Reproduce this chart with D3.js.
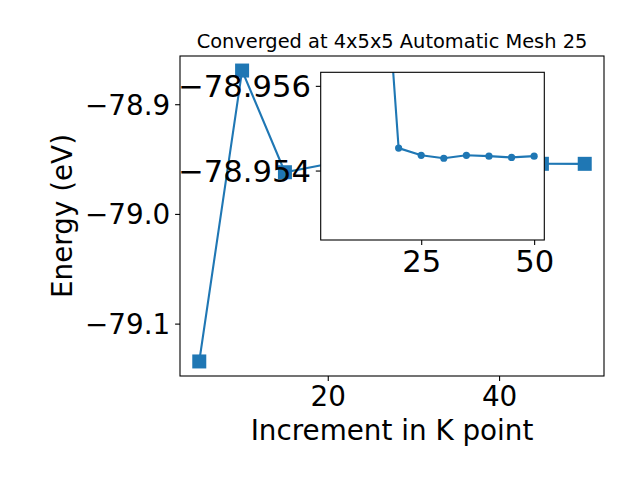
<!DOCTYPE html>
<html><head><meta charset="utf-8">
<script src="https://cdn.jsdelivr.net/npm/d3@7"></script>
<style>
html,body{margin:0;padding:0;background:#fff;}
text{font-family:"DejaVu Sans",sans-serif;fill:#000;}
</style></head>
<body><svg id="c" width="640" height="480"></svg>
<script>
// ---- data ----
const kpoints = [5, 10, 15, 20, 25, 30, 35, 40, 45, 50];
const energy = [-79.1345, -78.8693, -78.9620, -78.95453, -78.95436, -78.95429, -78.95436, -78.95434, -78.95431, -78.95434];
const insetStart = 2; // inset plots from k = 15 onward
const mainXTicks = [20, 40];
const mainYTicks = [-79.1, -79.0, -78.9];
const insetXTicks = [25, 50];
const insetYTicks = [-78.956, -78.954];
const insetYLim = [-78.95236, -78.95632];
const titleText = "Converged at 4x5x5 Automatic Mesh 25";
const xLabel = "Increment in K point";
const yLabel = "Energy (eV)";

const color = "#1f77b4";
const svg = d3.select("#c");
const fmtMinus = s => s.replace("-", "\u2212");

// ---- main axes ----
const M = {l:180, t:56, r:604, b:376};
const xr = d3.extent(kpoints), yr = d3.extent(energy);
const xp = (xr[1]-xr[0])*0.05, yp = (yr[1]-yr[0])*0.05;
const x = d3.scaleLinear().domain([xr[0]-xp, xr[1]+xp]).range([M.l, M.r]);
const y = d3.scaleLinear().domain([yr[0]-yp, yr[1]+yp]).range([M.b, M.t]);

svg.append("clipPath").attr("id","mclip").append("rect")
  .attr("x",M.l).attr("y",M.t).attr("width",M.r-M.l).attr("height",M.b-M.t);

const pts = kpoints.map((k,i)=>[k, energy[i]]);
const gm = svg.append("g").attr("clip-path","url(#mclip)");
gm.append("path").datum(pts)
  .attr("d", d3.line().x(d=>x(d[0])).y(d=>y(d[1])))
  .attr("fill","none").attr("stroke",color).attr("stroke-width",2.1);
gm.selectAll("rect.m").data(pts).join("rect")
  .attr("x", d=>x(d[0])-7).attr("y", d=>y(d[1])-7)
  .attr("width",14).attr("height",14).attr("fill",color);

function styleAxis(g, fs){
  g.select(".domain").remove();
  g.selectAll(".tick line").attr("stroke","#000").attr("stroke-width",1.1);
  g.selectAll(".tick text").attr("font-size",fs).attr("font-family","DejaVu Sans").attr("fill","#000");
}
const gx = svg.append("g").attr("transform",`translate(0,${M.b})`)
  .call(d3.axisBottom(x).tickValues(mainXTicks).tickSize(4.9).tickPadding(4.9).tickFormat(d3.format("d")));
styleAxis(gx, 27.8);
const gy = svg.append("g").attr("transform",`translate(${M.l},0)`)
  .call(d3.axisLeft(y).tickValues(mainYTicks).tickSize(4.9).tickPadding(4.9).tickFormat(d=>fmtMinus(d3.format(".1f")(d))));
styleAxis(gy, 27.8);
gy.selectAll(".tick text").attr("dy","0.36em");

svg.append("rect").attr("x",M.l).attr("y",M.t).attr("width",M.r-M.l).attr("height",M.b-M.t)
  .attr("fill","none").attr("stroke","#000").attr("stroke-width",1.1);

svg.append("text").attr("x",(M.l+M.r)/2).attr("y",48).attr("text-anchor","middle")
  .attr("font-size",19.4).text(titleText);
svg.append("text").attr("x",(M.l+M.r)/2).attr("y",440).attr("text-anchor","middle")
  .attr("font-size",27.8).text(xLabel);
svg.append("text").attr("transform",`translate(72,${(M.t+M.b)/2}) rotate(-90)`).attr("text-anchor","middle")
  .attr("font-size",27.8).text(yLabel);

// ---- inset axes ----
const I = {l:320.7, t:72.3, r:544.3, b:240};
const xi = d3.scaleLinear().domain(x.domain()).range([I.l, I.r]);
const yi = d3.scaleLinear().domain(insetYLim).range([I.b, I.t]);
const ipts = pts.slice(insetStart);

svg.append("rect").attr("x",I.l).attr("y",I.t).attr("width",I.r-I.l).attr("height",I.b-I.t)
  .attr("fill","#fff");
svg.append("clipPath").attr("id","iclip").append("rect")
  .attr("x",I.l).attr("y",I.t).attr("width",I.r-I.l).attr("height",I.b-I.t);
const gi = svg.append("g").attr("clip-path","url(#iclip)");
gi.append("path").datum(ipts)
  .attr("d", d3.line().x(d=>xi(d[0])).y(d=>yi(d[1])))
  .attr("fill","none").attr("stroke",color).attr("stroke-width",2.1);
gi.selectAll("circle").data(ipts).join("circle")
  .attr("cx", d=>xi(d[0])).attr("cy", d=>yi(d[1])).attr("r",3.6).attr("fill",color);

const gix = svg.append("g").attr("transform",`translate(0,${I.b})`)
  .call(d3.axisBottom(xi).tickValues(insetXTicks).tickSize(4.9).tickPadding(4.9).tickFormat(d3.format("d")));
styleAxis(gix, 30.6);
const giy = svg.append("g").attr("transform",`translate(${I.l},0)`)
  .call(d3.axisLeft(yi).tickValues(insetYTicks).tickSize(4.9).tickPadding(4.9).tickFormat(d=>fmtMinus(d3.format(".3f")(d))));
styleAxis(giy, 30.6);
giy.selectAll(".tick text").attr("dy","0.36em");

svg.append("rect").attr("x",I.l).attr("y",I.t).attr("width",I.r-I.l).attr("height",I.b-I.t)
  .attr("fill","none").attr("stroke","#000").attr("stroke-width",1.1);
</script></body></html>
